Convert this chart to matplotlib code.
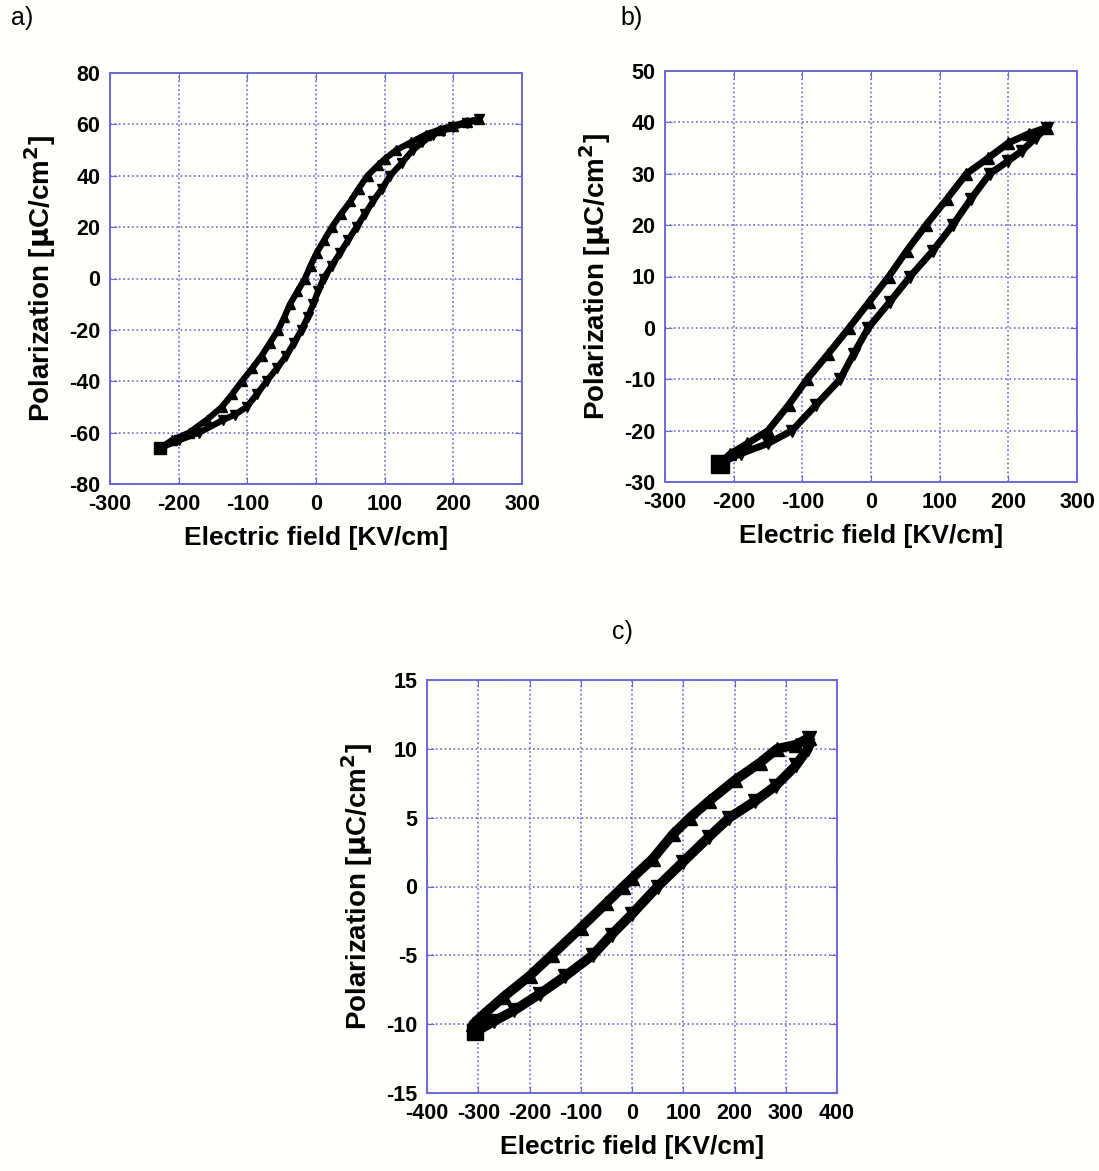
import numpy as np
import matplotlib.pyplot as plt

plt.rcParams['font.family'] = ['Liberation Sans', 'DejaVu Sans']
plt.rcParams['axes.unicode_minus'] = False

# panel a) hysteresis loop
a_up_E = [237, 220, 200, 180, 160, 138, 117, 100, 90, 75, 62, 50, 36, 23, 12, 1, -8, -16, -27, -38, -46, -55, -67, -79, -93, -108, -122, -137, -159, -185, -210, -227]
a_up_P = [62, 61, 59.5, 58, 56, 53, 50, 46.5, 44, 40, 35, 30, 25, 20, 15, 10, 5, 0, -5, -10, -15, -20, -25, -30, -35, -40, -45, -50, -55, -60, -63, -66]
a_lo_E = [237, 220, 200, 185, 170, 155, 141, 125, 108, 96, 83, 71, 59, 47, 35, 23, 11, 3, -4, -12, -21, -32, -43, -57, -72, -86, -101, -118, -135, -170, -200, -227]
a_lo_P = [62, 60.5, 59, 57.5, 56, 53, 50, 45, 40, 35, 30, 25, 20, 15, 10, 5, 0, -5, -10, -15, -20, -25, -30, -35, -40, -45, -50, -53, -55, -60, -63, -66]

# panel b)
b_up_E = [256, 230, 200, 170, 139, 110, 80, 52, 26, -3, -32, -62, -93, -120, -150, -180, -205, -220]
b_up_P = [39, 37.8, 36, 33, 30, 25, 20, 15, 10, 5, 0, -5, -10, -15, -20, -22.5, -24.5, -26.4]
b_lo_E = [256, 240, 220, 200, 173, 145, 119, 90, 57, 27, -4, -25, -45, -80, -115, -150, -190, -220]
b_lo_P = [39, 37, 34.5, 32.5, 30, 25, 20, 15, 10, 5, 0, -5, -10, -15, -20, -22.5, -24.5, -26.4]

# panel c)
c_up_E = [345, 320, 283, 250, 200, 150, 113, 80, 40, 0, -17, -50, -100, -157, -200, -250, -290, -310, -307]
c_up_P = [10.8, 10.3, 10, 9, 7.7, 6.2, 5, 3.8, 2, 0.6, 0, -1.2, -3, -5, -6.5, -8, -9.3, -10, -10.6]
c_lo_E = [345, 343, 320, 280, 240, 190, 150, 100, 50, 0, -40, -77, -130, -180, -230, -270, -307]
c_lo_P = [10.8, 10, 8.8, 7.3, 6.2, 5, 3.6, 1.8, 0, -2, -3.5, -5, -6.5, -7.8, -9, -9.8, -10.6]

blue = '#6a6ad6'
fig = plt.figure(figsize=(10.99, 11.71), dpi=100)
fig.patch.set_facecolor('#fffffb')


def panel(rect, up_E, up_P, lo_E, lo_P, xlim, xticks, ylim, yticks, lw, end_ms):
    ax = fig.add_axes(rect)
    ax.set_facecolor('#fffffb')
    ax.plot(up_E, up_P, color='black', lw=lw, marker='^', ms=lw + 3)
    ax.plot(lo_E, lo_P, color='black', lw=lw, marker='v', ms=lw + 3)
    # big marker where the loop starts (bottom left)
    ax.plot(lo_E[-1], lo_P[-1], color='black', marker='s', ms=end_ms)
    ax.set_xlim(xlim)
    ax.set_ylim(ylim)
    ax.set_xticks(xticks)
    ax.set_yticks(yticks)
    ax.grid(True, color=blue, ls=':', lw=1.2)
    for s in ax.spines.values():
        s.set_color(blue)
        s.set_linewidth(1.4)
    ax.tick_params(direction='in', length=5, color=blue, top=True, right=True,
                   labelsize=15.5, pad=7)
    for t in ax.get_xticklabels() + ax.get_yticklabels():
        t.set_fontweight('bold')
    ax.set_xlabel('Electric field [KV/cm]', fontsize=19, fontweight='bold', labelpad=8)
    ax.set_ylabel(r'Polarization [$\mathbf{\mu}$C/cm$^{\mathbf{2}}$]', fontsize=20,
                  fontweight='bold', labelpad=8)
    return ax


panel([110 / 1099, 1 - 484 / 1171, 412 / 1099, 411 / 1171],
      a_up_E, a_up_P, a_lo_E, a_lo_P, (-300, 300), range(-300, 301, 100),
      (-80, 80), range(-80, 81, 20), 4.5, 8)
panel([665 / 1099, 1 - 482 / 1171, 412 / 1099, 411 / 1171],
      b_up_E, b_up_P, b_lo_E, b_lo_P, (-300, 300), range(-300, 301, 100),
      (-30, 50), range(-30, 51, 10), 5, 13)
panel([427 / 1099, 1 - 1093 / 1171, 410 / 1099, 413 / 1171],
      c_up_E, c_up_P, c_lo_E, c_lo_P, (-400, 400), range(-400, 401, 100),
      (-15, 15), range(-15, 16, 5), 7, 11)

fig.text(22 / 1099, 1 - 18 / 1171, 'a)', fontsize=18, ha='center', va='center')
fig.text(632 / 1099, 1 - 18 / 1171, 'b)', fontsize=18, ha='center', va='center')
fig.text(622 / 1099, 1 - 632 / 1171, 'c)', fontsize=18, ha='center', va='center')

fig.savefig('out.png', dpi=100, facecolor=fig.get_facecolor())
